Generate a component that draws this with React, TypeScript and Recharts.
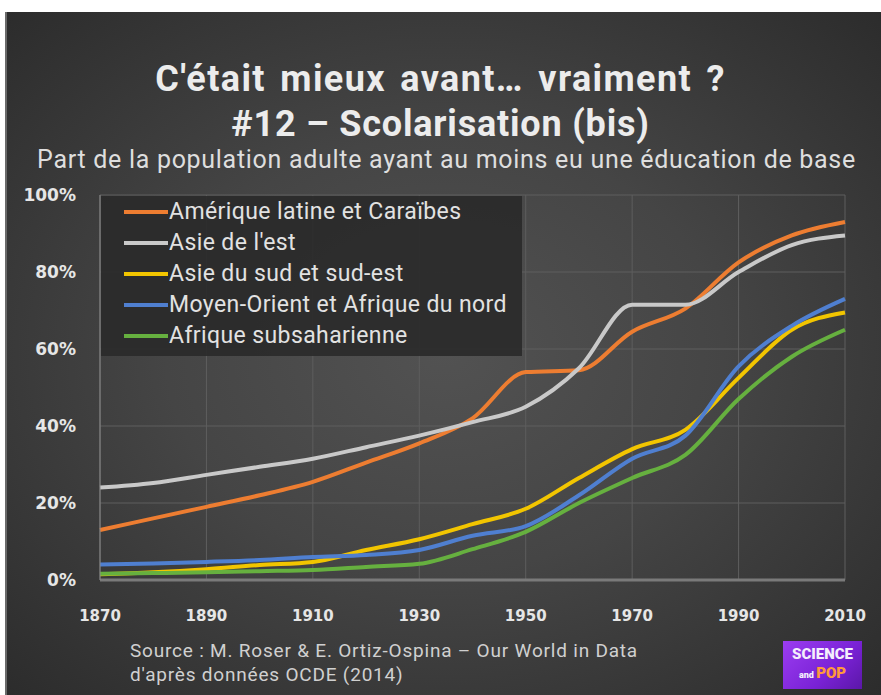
import React from 'react';
import { LineChart, Line, XAxis, YAxis, CartesianGrid } from 'recharts';

const years = [1870, 1880, 1890, 1900, 1910, 1920, 1930, 1940, 1950, 1960, 1970, 1980, 1990, 2000, 2010];
const latinAmerica = [13, 16, 19, 22, 25.5, 30.5, 35.5, 42, 54, 54.5, 64.5, 70.5, 82.5, 89.5, 93];
const eastAsia = [24, 25.2, 27.3, 29.4, 31.5, 34.5, 37.5, 41, 45, 55, 71.5, 71.5, 80, 87, 89.5];
const southAsia = [1.5, 2, 2.8, 3.9, 4.7, 7.8, 10.6, 14.5, 18.5, 26.5, 34, 39, 52.5, 65, 69.5];
const menaRegion = [4, 4.3, 4.7, 5.2, 6, 6.5, 7.8, 11.5, 14, 22, 31.5, 37.5, 55.5, 66, 73];
const subSaharan = [1.6, 1.8, 2, 2.3, 2.6, 3.4, 4.2, 8, 12.5, 20, 26.5, 32.5, 47, 58, 65];

const xTicks = [1870, 1890, 1910, 1930, 1950, 1970, 1990, 2010];
const yTicks = [0, 20, 40, 60, 80, 100];

const SERIES = [
  { key: 'latin', name: 'Amérique latine et Caraïbes', color: '#ED7D31' },
  { key: 'east', name: "Asie de l'est", color: '#C9C9C9' },
  { key: 'south', name: 'Asie du sud et sud-est', color: '#F2C500' },
  { key: 'mena', name: 'Moyen-Orient et Afrique du nord', color: '#4F7FD0' },
  { key: 'ssa', name: 'Afrique subsaharienne', color: '#66B03F' },
];

const data = years.map((year, i) => ({
  year,
  latin: latinAmerica[i],
  east: eastAsia[i],
  south: southAsia[i],
  mena: menaRegion[i],
  ssa: subSaharan[i],
}));

const FONT = 'Roboto, "DejaVu Sans", sans-serif';
const TICK_FONT = '"DejaVu Sans", Verdana, sans-serif';

const XTick = (props: any) => {
  const { x, y, payload } = props;
  return (
    <text x={x} y={y + 41} textAnchor="middle" fill="#e6e6e6" fontSize={15} fontWeight={700} fontFamily={TICK_FONT}>
      {payload.value}
    </text>
  );
};

const YTick = (props: any) => {
  const { y, payload } = props;
  return (
    <text x={76} y={y + 6} textAnchor="end" fill="#e6e6e6" fontSize={17} fontWeight={700} fontFamily={TICK_FONT}>
      {payload.value}%
    </text>
  );
};

// legend drawn as an overlay so it doesn't push the plot area down
const LegendBox = () => (
  <div
    style={{
      position: 'absolute',
      left: 101,
      top: 196,
      width: 421,
      height: 160,
      background: 'rgba(42,42,42,0.92)',
      boxSizing: 'border-box',
      padding: '0 0 0 23px',
      fontFamily: FONT,
      fontSize: 23,
      letterSpacing: 0.4,
      color: '#e2e2e2',
    }}
  >
    {SERIES.map((s) => (
      <div key={s.key} style={{ display: 'flex', alignItems: 'center', height: 31 }}>
        <span style={{ display: 'inline-block', width: 44, height: 4, background: s.color, marginRight: 1 }} />
        <span>{s.name}</span>
      </div>
    ))}
  </div>
);

export default function App() {
  return (
    <div style={{ position: 'absolute', left: 0, top: 0, width: 881, height: 695, background: '#fff', overflow: 'hidden' }}>
      <div
        style={{
          position: 'absolute',
          left: 5,
          top: 12,
          width: 876,
          height: 683,
          background: 'radial-gradient(ellipse at 50% 50%, #525252 0%, #454545 45%, #2c2c2c 100%)',
          borderLeft: '2px solid #6a6a6a',
        }}
      />
      <div
        style={{
          position: 'absolute',
          left: 0,
          top: 57,
          width: 881,
          textAlign: 'center',
          fontFamily: FONT,
          fontWeight: 700,
          fontSize: 36,
          lineHeight: '45px',
          letterSpacing: 0.8,
          color: '#ececec',
        }}
      >
        <div style={{ wordSpacing: 4, letterSpacing: 1.4 }}>C'était mieux avant… vraiment ?</div>
        <div>#12 – Scolarisation (bis)</div>
      </div>
      <div
        style={{
          position: 'absolute',
          left: 6,
          top: 145,
          width: 881,
          textAlign: 'center',
          fontFamily: FONT,
          fontSize: 25,
          letterSpacing: 0.7,
          color: '#dedede',
        }}
      >
        Part de la population adulte ayant au moins eu une éducation de base
      </div>
      <div style={{ position: 'absolute', left: 0, top: 0 }}>
        <LineChart width={881} height={695} data={data} margin={{ top: 195, right: 36, bottom: 85, left: 0 }}>
          <CartesianGrid stroke="#5e5e5e" strokeWidth={1} />
          <XAxis
            dataKey="year"
            type="number"
            domain={[1870, 2010]}
            ticks={xTicks}
            tick={<XTick />}
            tickLine={false}
            tickSize={0}
            tickMargin={0}
            height={30}
            axisLine={{ stroke: '#7a7a7a', strokeWidth: 3 }}
          />
          <YAxis
            type="number"
            domain={[0, 100]}
            ticks={yTicks}
            tick={<YTick />}
            tickLine={false}
            width={100}
            axisLine={{ stroke: '#8a8a8a', strokeWidth: 1 }}
          />
          {SERIES.map((s) => (
            <Line
              key={s.key}
              dataKey={s.key}
              name={s.name}
              type="monotone"
              stroke={s.color}
              strokeWidth={4}
              dot={false}
              isAnimationActive={false}
            />
          ))}
        </LineChart>
      </div>
      <LegendBox />
      <div
        style={{
          position: 'absolute',
          left: 130,
          top: 639,
          fontFamily: FONT,
          fontSize: 19,
          letterSpacing: 0.8,
          lineHeight: '24px',
          color: '#d0d0d0',
        }}
      >
        <div>Source : M. Roser &amp; E. Ortiz-Ospina – Our World in Data</div>
        <div>d'après données OCDE (2014)</div>
      </div>
      <div
        style={{
          position: 'absolute',
          left: 783,
          top: 641,
          width: 79,
          height: 48,
          background: 'linear-gradient(135deg, #9b3df0 0%, #7a22d6 60%, #5b17a8 100%)',
          fontFamily: FONT,
          fontWeight: 900,
          textAlign: 'center',
          lineHeight: '19px',
          paddingTop: 4,
          boxSizing: 'border-box',
        }}
      >
        <div style={{ color: '#f4eefc', fontSize: 15 }}>SCIENCE</div>
        <div style={{ fontSize: 15 }}>
          <span style={{ color: '#f4eefc', fontSize: 9 }}>and </span>
          <span style={{ color: '#ff9a3a' }}>POP</span>
        </div>
      </div>
    </div>
  );
}
